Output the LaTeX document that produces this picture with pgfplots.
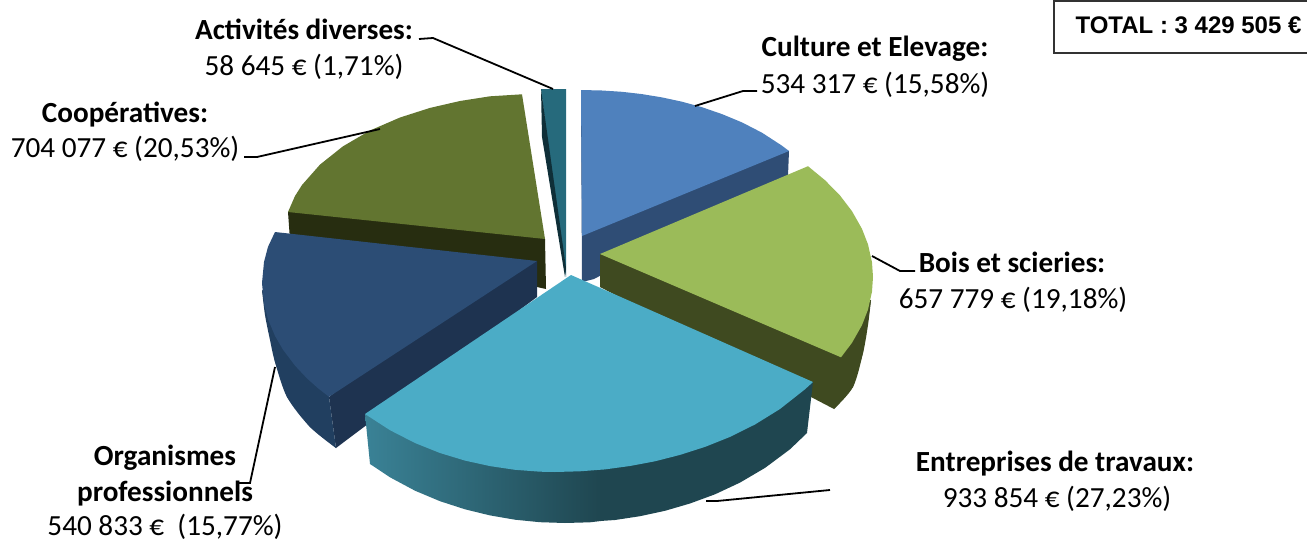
\documentclass[border=0pt]{standalone}
\usepackage{fontspec}
\setmainfont{Carlito}
\newfontfamily\arialfont{Liberation Sans}
\usepackage{pgfplots}
\pgfplotsset{compat=1.18}

\definecolor{blueTop}{HTML}{4F81BD}
\definecolor{blueSide}{HTML}{2F4D75}
\definecolor{greenTop}{HTML}{9BBB59}
\definecolor{greenSide}{HTML}{3F4A20}
\definecolor{tealTop}{HTML}{4BACC6}
\definecolor{tealLight}{HTML}{3A8296}
\definecolor{tealDark}{HTML}{1F4650}
\definecolor{navyTop}{HTML}{2C4D75}
\definecolor{navyFace}{HTML}{1E3350}
\definecolor{navySide}{HTML}{213F60}
\definecolor{oliveTop}{HTML}{627530}
\definecolor{oliveSide}{HTML}{272D10}
\definecolor{smallTop}{HTML}{266A7C}
\definecolor{smallSide}{HTML}{0F2F38}

\tikzset{lab/.style={font=\fontsize{29.2}{34}\selectfont, anchor=base, inner sep=0pt}}

\begin{document}
\begin{tikzpicture}
\begin{axis}[
    scale only axis,
    width=1307pt,
    height=541pt,
    xmin=0, xmax=1307,
    ymin=0, ymax=541,
    y dir=reverse,
    hide axis,
    no markers,
]
% keeps the whole frame in the page
\addplot[draw=none] coordinates {(0,0) (1307,541)};

% small slice
\addplot[fill=smallTop,draw=none] coordinates {(541,89) (566,89) (566,277) (560,240)};
\addplot[fill=smallSide,draw=none] coordinates {(541,89) (542,137) (565,277) (566,268)};

% olive slice
\addplot[fill=oliveSide,draw=none] coordinates {(288,212) (400,190) (545,239) (546,289) (537,287) (290,240)};
\addplot[fill=oliveTop,draw=none] coordinates {(288,212) (295,196) (302,185) (320,164.6) (343,146.3) (370,130.5) (400,117.5) (430,107.9) (460,101) (490,96.3) (522,94.3) (545,239)};

% navy slice
\addplot[fill=navyFace,draw=none] coordinates {(537,261) (450,300) (329,397) (336,448) (537,297)};
\addplot[fill=navySide,draw=none,smooth] coordinates {(262,290) (265,315) (270,340) (275,362) (287,397) (310,427) (336,448)};
\addplot[fill=navySide,draw=none] coordinates {(262,290) (320,340) (329,397) (336,448) (310,427) (287,397) (275,362)};
\addplot[fill=navyTop,draw=none] coordinates {(275,232) (268,246.8) (264,262) (262,283) (264,304) (268,319.2) (275,335.9) (283,349.7) (295,365.6) (307,378.4) (318,388.2) (329,396.8) (537,261)};

% blue slice
\addplot[fill=blueSide,draw=none] coordinates {(581,90) (650,150) (789,151) (788,176) (594,279) (582,282)};
\addplot[fill=blueTop,draw=none] coordinates {(581,90) (602,90.5) (622,91.8) (642,94.1) (662,97.4) (682,101.7) (702,107.2) (722,114.1) (742,122.4) (762,132.7) (782,145.7) (789,151) (582,236)};

% green slice
\addplot[fill=greenSide,draw=none,smooth] coordinates {(871,300) (868,325) (863,353) (853,387) (834,409)};
\addplot[fill=greenSide,draw=none] coordinates {(600,254) (800,300) (871,300) (863,353) (853,387) (834,409) (600,287)};
\addplot[fill=greenTop,draw=none] coordinates {(808,166.2) (825,180.2) (840,195.5) (852,211.2) (862,228.9) (868,244.4) (872,262.4) (873,277) (872,291.6) (868,309.6) (862,325.1) (852,342.8) (841,357.3) (600,254)};

% big teal slice
\addplot[left color=tealLight,right color=tealDark,draw=none] coordinates {(365,414) (601,440) (601,521) (590,522.3) (565,523) (540,522.2) (515,519.7) (490,515.4) (465,509.3) (440,501.2) (415,490.7) (390,477.3) (370,464)};
\addplot[fill=tealDark,draw=none] coordinates {(600,440) (813,382) (807,433) (790,449.3) (765,467.9) (740,482.6) (715,494.3) (690,503.5) (665,510.8) (640,516.2) (615,520) (600,521)};
\addplot[fill=tealTop,draw=none] coordinates {(571,275) (813,382) (805,389.3) (780,409) (755,424.5) (730,436.9) (705,446.9) (680,454.9) (655,461.3) (630,466) (605,469.4) (580,471.3) (555,472) (540,471.7) (515,469.8) (490,466.1) (465,460.6) (440,453) (415,443) (390,430.2) (365,414)};

% leader lines
\addplot[black,line width=1.8pt] coordinates {(419,39) (433,38) (553,89)};
\addplot[black,line width=1.8pt] coordinates {(695,106) (743,91) (757,91)};
\addplot[black,line width=1.8pt] coordinates {(872,256) (900,271) (915,271)};
\addplot[black,line width=1.8pt] coordinates {(706,501) (717,501) (830,490)};
\addplot[black,line width=1.8pt] coordinates {(275,367) (250,483) (238,483)};
\addplot[black,line width=1.8pt] coordinates {(380,129) (257,157) (244,157)};

% total box
\addplot[black!80,line width=1.6pt] coordinates {(1307,1) (1054,1) (1054,53) (1307,53)};

\node[lab] at (axis cs:304,39) {\bfseries Activités diverses:};
\node[lab] at (axis cs:304,75) {58 645 € (1,71\%)};
\node[lab] at (axis cs:875,56) {\bfseries Culture et Elevage:};
\node[lab] at (axis cs:875,93) {534 317 € (15,58\%)};
\node[lab] at (axis cs:125,122) {\bfseries Coopératives:};
\node[lab] at (axis cs:125,157) {704 077 € (20,53\%)};
\node[lab] at (axis cs:1012,272) {\bfseries Bois et scieries:};
\node[lab] at (axis cs:1013,308) {657 779 € (19,18\%)};
\node[lab] at (axis cs:1055,471) {\bfseries Entreprises de travaux:};
\node[lab] at (axis cs:1057,507) {933 854 € (27,23\%)};
\node[lab] at (axis cs:165,465) {\bfseries Organismes};
\node[lab] at (axis cs:165,501) {\bfseries professionnels};
\node[lab] at (axis cs:165,535) {540 833 €~ (15,77\%)};
\node[lab,font=\arialfont\bfseries\fontsize{24}{28}\selectfont] at (axis cs:1188.5,33) {TOTAL : 3 429 505 €};
\end{axis}
\end{tikzpicture}
\end{document}
